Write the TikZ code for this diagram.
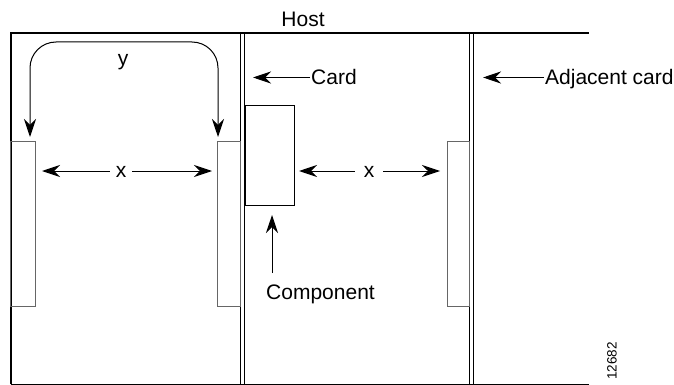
\documentclass[tikz,border=0pt]{standalone}
\usepackage{fontspec}
\setmainfont{Liberation Sans}
\usetikzlibrary{arrows.meta}
\begin{document}
\begin{tikzpicture}[x=1pt,y=-1pt,
  thickline/.style={line width=2pt},
  thinline/.style={line width=0.9pt},
  slotbox/.style={draw=black!60, line width=0.9pt, inner sep=0pt, outer sep=0pt, minimum height=165pt},
  compbox/.style={draw=black, line width=0.9pt, inner sep=0pt, outer sep=0pt, minimum width=49pt, minimum height=100pt},
  lbl/.style={font=\fontsize{21}{25}\selectfont, inner sep=1pt},
  arr/.style={-{Stealth[length=18pt,width=12pt,inset=6pt]}, line width=1pt},
  dblarr/.style={{Stealth[length=18pt,width=12pt,inset=6pt]}-{Stealth[length=18pt,width=12pt,inset=6pt]}, line width=1pt},
]
\useasboundingbox (0,0) rectangle (674,385);

% frame
\coordinate (tl) at (10.5,33);
\coordinate (tr) at (589,33);
\coordinate (bl) at (10.5,384);
\coordinate (br) at (589,384);
\draw[thinline] (bl) -- (br);
\draw[thickline] (bl) -- (tl) -- (tr);

% card double lines
\draw[thinline] (240,33) -- (240,384);
\draw[thinline] (244,33) -- (244,384);
\draw[thinline] (469.5,33) -- (469.5,384);
\draw[thinline] (473,33) -- (473,384);

% slots
\node[slotbox, minimum width=24.5pt] (s1) at (22.75,223.5) {};
\node[slotbox, minimum width=23pt] (s2) at (228.5,223.5) {};
\node[slotbox, minimum width=22.5pt] (s3) at (458.25,223.5) {};

% component
\node[compbox] (comp) at (270,155) {};

% labels
\node[lbl, anchor=base] (host) at (303,26.5) {Host};
\node[lbl, anchor=base] (ylab) at (123,65.5) {y};
\node[lbl, anchor=base, inner xsep=6pt] (x1) at (121,177.5) {x};
\node[lbl, anchor=base, inner xsep=9pt] (x2) at (369,177.5) {x};
\node[lbl, anchor=base west] (card) at (310,85) {Card};
\node[lbl, anchor=base west] (adj) at (544,85) {Adjacent card};
\node[lbl, anchor=base] (complab) at (320.5,299) {Component};
\node[font=\fontsize{13.5}{15}\selectfont, rotate=90, inner sep=0pt] (fig) at (612,361) {12682};

% y arrow
\coordinate (yl) at (30,137);
\coordinate (yr) at (218,137);
\draw[dblarr, rounded corners=26pt]
  (yl) -- (30,42) -- (218,42) -- (yr);

% x arrows
\coordinate (x1l) at (42,171);
\coordinate (x1r) at (212,171);
\draw[arr] (x1.west |- x1l) -- (x1l);
\draw[arr] (x1.east |- x1r) -- (x1r);
\coordinate (x2l) at (299,171);
\coordinate (x2r) at (440,171);
\draw[arr] (x2.west |- x2l) -- (x2l);
\draw[arr] (x2.east |- x2r) -- (x2r);

% card arrows
\coordinate (cardtip) at (253,77.5);
\draw[arr] (card.west |- cardtip) -- (cardtip);
\coordinate (adjtip) at (483,77.5);
\draw[arr] (adj.west |- adjtip) -- (adjtip);

% component arrow
\coordinate (comptip) at (272,215);
\draw[arr] (comptip |- complab.north) ++(0,-10) -- (comptip);
\end{tikzpicture}
\end{document}
